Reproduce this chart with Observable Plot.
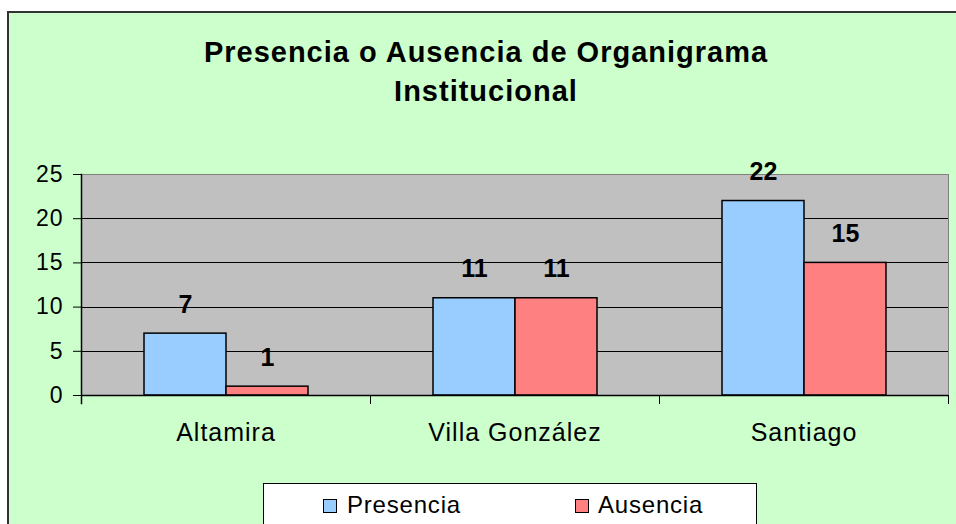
<!DOCTYPE html>
<html>
<head>
<meta charset="utf-8">
<script src="https://cdn.jsdelivr.net/npm/d3@7"></script>
<script src="https://cdn.jsdelivr.net/npm/@observablehq/plot@0.6"></script>
<style>
  html, body { margin: 0; padding: 0; background: #ffffff; width: 956px; height: 524px; overflow: hidden; }
  body { position: relative; font-family: "Liberation Sans", Arial, sans-serif; color: #000; }
  #panel { position: absolute; left: 7px; top: 11px; width: 960px; height: 520px;
           border-left: 2px solid #333; border-top: 2px solid #333; background: #ccffcc; }
  #title { position: absolute; left: 0; top: 33px; width: 972px; text-align: center;
           font-weight: bold; font-size: 29px; line-height: 39px; letter-spacing: 1px; }
  #chart { position: absolute; left: 0; top: 130px; }
  #chart svg text { letter-spacing: 1px; }
  #chart svg g[aria-label="text"] text { letter-spacing: 0; }
  #legend { position: absolute; left: 263px; top: 483px; width: 492px; height: 60px;
            border: 1px solid #000; background: #fff; }
  .sw { position: absolute; width: 12px; height: 12px; border: 1px solid #000; }
  .lt { position: absolute; font-size: 24px; line-height: 24px; letter-spacing: 0.8px; white-space: nowrap; }
</style>
</head>
<body>
<div id="panel"></div>
<div id="title">Presencia o Ausencia de Organigrama<br>Institucional</div>
<div id="chart"></div>
<div id="legend"></div>
<script>
const categories = ["Altamira", "Villa González", "Santiago"];
const series = ["Presencia", "Ausencia"];
const presencia = [7, 11, 22];
const ausencia = [1, 11, 15];
const yTicks = [0, 5, 10, 15, 20, 25];
const colors = ["#99ccff", "#ff8080"];

const data = categories.flatMap((c, i) => [
  {cat: c, series: series[0], value: presencia[i]},
  {cat: c, series: series[1], value: ausencia[i]}
]);

const innerH = 330 - 44 - 65;

const chart = Plot.plot({
  width: 956,
  height: 330,
  marginTop: 44,
  marginBottom: 65,
  marginLeft: 80,
  marginRight: 7,
  style: {background: "transparent", fontFamily: "'Liberation Sans', Arial, sans-serif", color: "black", overflow: "visible"},
  fx: {domain: categories, padding: 0, label: null},
  x: {domain: series, paddingInner: 0, paddingOuter: 0.745, axis: null},
  y: {domain: [0, 25], axis: null},
  color: {domain: series, range: colors},
  marks: [
    Plot.frame({fill: "#c0c0c0", shapeRendering: "crispEdges"}),
    Plot.ruleY(yTicks.filter(t => t > 0 && t < 25), {stroke: "black", strokeWidth: 1, shapeRendering: "crispEdges"}),
    Plot.ruleY([25], {stroke: "#808080", strokeWidth: 1}),
    Plot.frame({anchor: "right", stroke: "#808080", fx: () => categories[2]}),
    Plot.barY(data, {fx: "cat", x: "series", y: "value", fill: "series", stroke: "black", strokeWidth: 1.5}),
    Plot.ruleY([0], {stroke: "black", strokeWidth: 1.5}),
    Plot.frame({anchor: "left", stroke: "black", strokeWidth: 1.5, insetBottom: -8, fx: () => categories[0]}),
    Plot.frame({anchor: "left", stroke: "black", insetTop: innerH, insetBottom: -8}),
    Plot.frame({anchor: "right", stroke: "black", insetTop: innerH, insetBottom: -8, fx: () => categories[2]}),
    Plot.axisY({ticks: yTicks, tickSize: 8, tickPadding: 10, fontSize: 23, label: null, stroke: "black"}),
    Plot.axisFx({anchor: "bottom", tickSize: 0, tickPadding: 28, fontSize: 25, label: null}),
    Plot.text(data, {fx: "cat", x: "series", y: "value", text: d => String(d.value),
      lineAnchor: "bottom", dy: -21, fontWeight: "bold", fontSize: 25, fill: "black"})
  ]
});
document.getElementById("chart").appendChild(chart);

// Legend built from series and colours
const legend = document.getElementById("legend");
const swLeft = [59, 311];
const txLeft = [83, 334];
series.forEach((s, i) => {
  const sw = document.createElement("div");
  sw.className = "sw";
  sw.style.left = swLeft[i] + "px";
  sw.style.top = "15px";
  sw.style.background = colors[i];
  legend.appendChild(sw);
  const t = document.createElement("div");
  t.className = "lt";
  t.style.left = txLeft[i] + "px";
  t.style.top = "9px";
  t.textContent = s;
  legend.appendChild(t);
});
</script>
</body>
</html>
